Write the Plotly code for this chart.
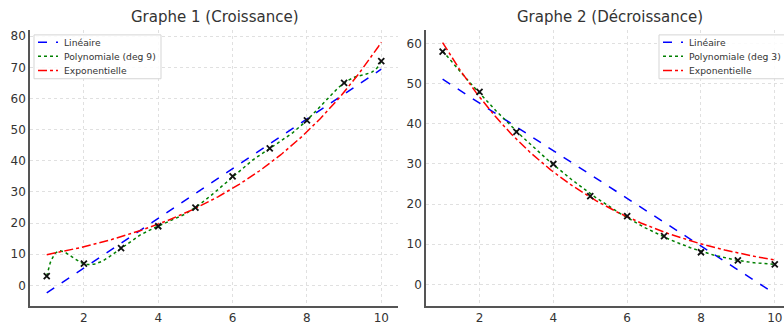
import numpy as np
import plotly.graph_objects as go

# ---- data ----
x_vals = [1, 2, 3, 4, 5, 6, 7, 8, 9, 10]
y_growth = [3, 7, 12, 19, 25, 35, 44, 53, 65, 72]
y_decay = [58, 48, 38, 30, 22, 17, 12, 8, 6, 5]
titles = ["Graphe 1 (Croissance)", "Graphe 2 (Décroissance)"]
poly_degrees = [9, 3]
x_ticks = [2, 4, 6, 8, 10]
series_names = ["Linéaire", "Polynomiale (deg {})", "Exponentielle"]
series_colors = ["#0000ff", "#008000", "#ff0000"]
series_dash = ["dash", "dot", "dashdot"]


def exp_fit(x, y):
    # least squares fit of y = a*exp(b*x)
    x = np.asarray(x, float)
    y = np.asarray(y, float)
    best = None
    for b in np.linspace(-1, 1, 20001):
        e = np.exp(b * x)
        a = (y @ e) / (e @ e)
        r = np.sum((y - a * e) ** 2)
        if best is None or r < best[0]:
            best = (r, a, b)
    return best[1], best[2]


# plot geometry in pixels
W, H = 784, 325
ML, MR, MT, MB = 30, 0, 30, 12
PW, PH = W - ML - MR, H - MT - MB


def px(xp):
    return (xp - ML) / PW


def py(yp):
    return (H - MB - yp) / PH


xs = np.linspace(min(x_vals), max(x_vals), 300)
fig = go.Figure()
shapes = []
annotations = []

datasets = [y_growth, y_decay]
legend_pos = [(34, 35), (659, 35)]  # box left/top in px
for i, (ys, deg) in enumerate(zip(datasets, poly_degrees)):
    xa = "x" if i == 0 else "x2"
    ya = "y" if i == 0 else "y2"
    lin = np.polyfit(x_vals, ys, 1)
    pol = np.polyfit(x_vals, ys, deg)
    a, b = exp_fit(x_vals, ys)
    curves = [np.polyval(lin, xs), np.polyval(pol, xs), a * np.exp(b * xs)]
    for k, cy in enumerate(curves):
        fig.add_trace(go.Scatter(x=xs, y=cy, mode="lines", xaxis=xa, yaxis=ya,
                                 name=series_names[k].format(deg), showlegend=False,
                                 line=dict(color=series_colors[k], dash=series_dash[k], width=1.5)))
    fig.add_trace(go.Scatter(x=x_vals, y=ys, mode="markers", xaxis=xa, yaxis=ya,
                             marker=dict(symbol="x-thin", size=6, color="#111",
                                         line=dict(width=1.8, color="#111")),
                             showlegend=False, hoverinfo="skip"))

    # legend box
    bx, by = legend_pos[i]
    bw, bh = 127, 45
    shapes.append(dict(type="rect", xref="paper", yref="paper", layer="above",
                       x0=px(bx), x1=px(bx + bw), y0=py(by + bh), y1=py(by),
                       fillcolor="rgba(255,255,255,0.85)", line=dict(color="#d5d5d5", width=1)))
    for k in range(3):
        ey = by + 7.5 + k * 14.5
        shapes.append(dict(type="line", xref="paper", yref="paper", layer="above",
                           x0=px(bx + 4), x1=px(bx + 24), y0=py(ey), y1=py(ey),
                           line=dict(color=series_colors[k], dash=series_dash[k], width=1.5)))
        annotations.append(dict(text=series_names[k].format(deg), xref="paper", yref="paper",
                                x=px(bx + 28), y=py(ey), xanchor="left", yanchor="middle",
                                showarrow=False,
                                font=dict(family="DejaVu Sans", size=9.2, color="#333")))

axis_common = dict(showgrid=True, gridcolor="#e0e0e0", griddash="dot", gridwidth=1,
                   zeroline=False, showline=True, linecolor="#555", linewidth=1.5,
                   ticks="", ticklabeloverflow="allow",
                   tickfont=dict(family="DejaVu Sans", size=12, color="#333"))

for i, t in enumerate(titles):
    cx = [214, 610][i]
    annotations.append(dict(text=t, x=px(cx), y=1.0, xref="paper", yref="paper", yshift=2,
                            xanchor="center", yanchor="bottom", showarrow=False,
                            font=dict(family="DejaVu Sans", size=15, color="#333")))

fig.update_layout(
    width=W, height=H,
    margin=dict(l=ML, r=MR, t=MT, b=MB),
    plot_bgcolor="white", paper_bgcolor="white",
    font=dict(family="DejaVu Sans", color="#333"),
    showlegend=False,
    xaxis=dict(domain=[0, px(398)], range=[0.55, 10.45], tickvals=x_ticks, anchor="y", **axis_common),
    yaxis=dict(domain=[0, 1], range=[-6.6, 82], dtick=10, anchor="x", **axis_common),
    xaxis2=dict(domain=[px(426), 1], range=[0.55, 10.25], tickvals=x_ticks, anchor="y2", **axis_common),
    yaxis2=dict(domain=[0, 1], range=[-5.4, 63.4], dtick=10, anchor="x2", **axis_common),
    shapes=shapes,
    annotations=annotations,
)

fig.write_html("out.html")
